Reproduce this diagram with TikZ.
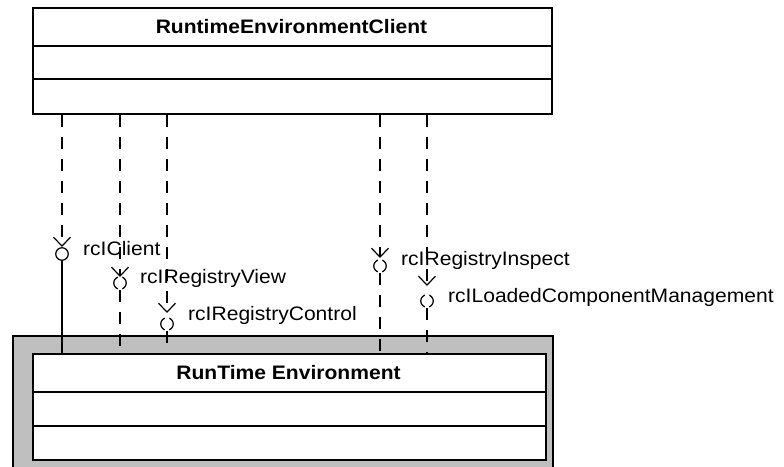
\documentclass[tikz,border=0pt]{standalone}
\usepackage{fontspec}
\setmainfont[FakeStretch=1.08]{Liberation Sans}
\usetikzlibrary{arrows.meta}

\tikzset{
  boxline/.style={draw=black, line width=1.8pt},
  classbox/.style={boxline, fill=white, anchor=north west, inner sep=0pt},
  dep/.style={line width=1.2pt, dash pattern=on 12pt off 10pt,
    -{Straight Barb[length=9pt, width=17pt, line width=1.2pt]}},
  link/.style={line width=1.2pt},
  dlink/.style={line width=1.2pt, dash pattern=on 12pt off 10pt},
  ball/.style={circle, draw, line width=1.2pt, minimum size=12.5pt, inner sep=0pt},
  dball/.style={ball, dash pattern=on 15pt off 4.6pt, dash phase=7.6pt},
  lbl/.style={anchor=base west, inner sep=0pt},
}

\begin{document}
\begin{tikzpicture}[x=1pt, y=-1pt, font=\fontsize{19.5}{23}\selectfont]
\useasboundingbox (0,0) rectangle (784,466);

% client class
\node[classbox, minimum width=519pt, minimum height=106pt] (client) at (32,7) {};
\node (clientname) at (291.5,27) {\bfseries RuntimeEnvironmentClient};
\draw[boxline] (32,46) -- (551,46);
\draw[boxline] (32,79) -- (551,79);

% runtime environment frame and class
\node[boxline, fill=black!25, anchor=north west, inner sep=0pt,
      minimum width=540pt, minimum height=140pt] (frame) at (12,335) {};
\node[classbox, minimum width=513pt, minimum height=106pt] (env) at (32,353) {};
\node (envname) at (288.5,373) {\bfseries RunTime Environment};
\draw[boxline] (32,392) -- (545,392);
\draw[boxline] (32,426) -- (545,426);

% interface symbols
\coordinate (tip1) at (62,247);
\node[ball]  (ifc1) at (62,254) {};
\coordinate (tip2) at (120,277);
\node[dball] (ifc2) at (120,283) {};
\coordinate (tip3) at (167,313);
\node[dball] (ifc3) at (167,324) {};
\coordinate (tip4) at (380,258);
\node[dball] (ifc4) at (380,266) {};
\coordinate (tip5) at (427,286);
\node[dball] (ifc5) at (427,301) {};

% dependencies
\foreach \i in {1,...,5} {
  \draw[dep] (client.south -| tip\i) -- (tip\i);
}
\draw[link] (ifc1.south) -- (env.north -| ifc1);
\foreach \i in {2,...,5} {
  \draw[dlink] (ifc\i.south) -- (env.north -| ifc\i);
}

% interface names
\node[lbl] (n1) at (83,255) {rcIClient};
\node[lbl] (n2) at (140,283) {rcIRegistryView};
\node[lbl] (n3) at (188,320) {rcIRegistryControl};
\node[lbl] (n4) at (401,265) {rcIRegistryInspect};
\node[lbl] (n5) at (448,302) {rcILoadedComponentManagement};
\end{tikzpicture}
\end{document}
